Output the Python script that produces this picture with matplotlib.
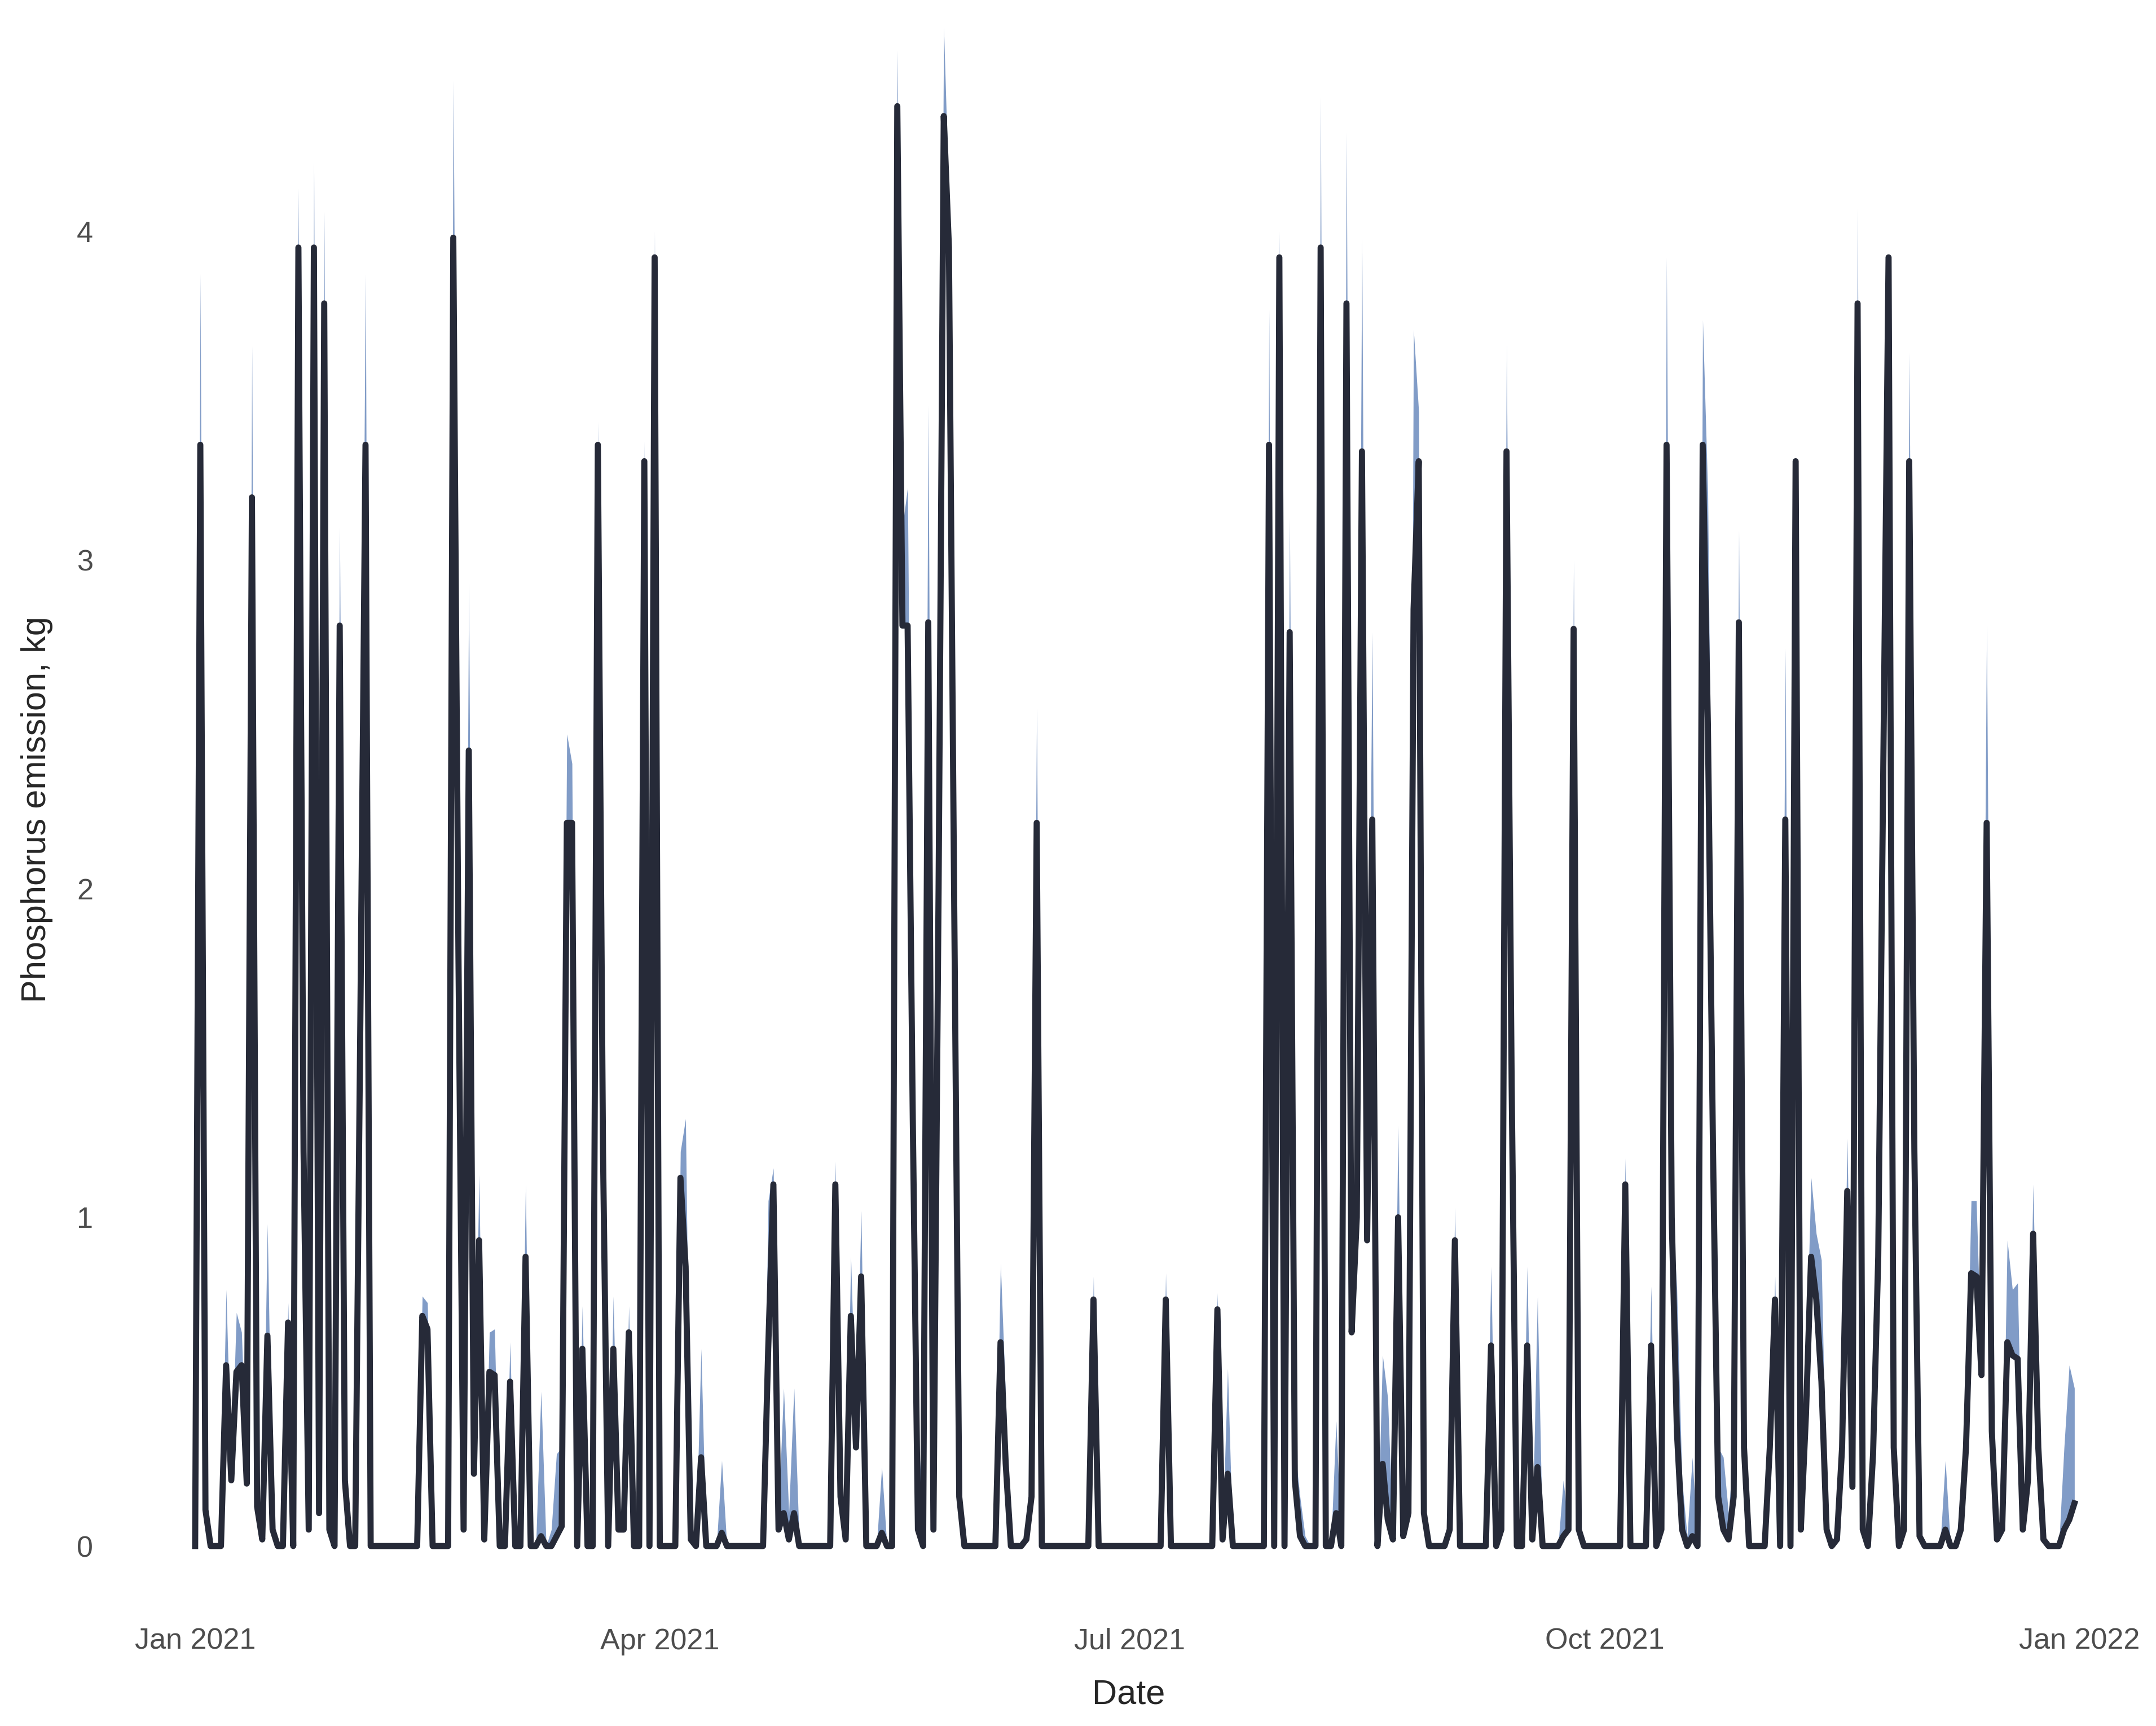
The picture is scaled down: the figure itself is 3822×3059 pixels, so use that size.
import numpy as np
import pandas as pd
import matplotlib
matplotlib.use("Agg")
import matplotlib.pyplot as plt
import matplotlib.dates as mdates

# daily phosphorus emission 2021 (kg), line = estimate, upper = top of the band
jan_mean = [0, 3.35, 0.11, 0, 0, 0, 0.55, 0.2, 0.53, 0.55, 0.19, 3.19, 0.12, 0.02, 0.64, 0.05, 0, 0, 0.68, 0, 3.95, 1.2, 0.05, 3.95, 0.1, 3.78, 0.05, 0, 2.8, 0.2, 0]
feb_mean = [0, 1.6, 3.35, 0, 0, 0, 0, 0, 0, 0, 0, 0, 0, 0.7, 0.66, 0, 0, 0, 0, 3.98, 1.8, 0.05, 2.42, 0.22, 0.93, 0.02, 0.53, 0.52]
mar_mean = [0, 0, 0.5, 0, 0, 0.88, 0, 0, 0.03, 0, 0, 0.03, 0.06, 2.2, 2.2, 0, 0.6, 0, 0, 3.35, 1.2, 0, 0.6, 0.05, 0.05, 0.65, 0, 0, 3.3, 0, 3.92]
apr_mean = [0, 0, 0, 0, 1.12, 0.85, 0.02, 0, 0.27, 0, 0, 0, 0.04, 0, 0, 0, 0, 0, 0, 0, 0, 0.6, 1.1, 0.05, 0.1, 0.02, 0.1, 0, 0, 0]
may_mean = [0, 0, 0, 0, 1.1, 0.15, 0.02, 0.7, 0.3, 0.82, 0, 0, 0, 0.04, 0, 0, 4.38, 2.8, 2.8, 1.3, 0.05, 0, 2.81, 0.05, 2.0, 4.35, 3.95, 2.0, 0.15, 0, 0]
jun_mean = [0, 0, 0, 0, 0, 0.62, 0.25, 0, 0, 0, 0.02, 0.15, 2.2, 0, 0, 0, 0, 0, 0, 0, 0, 0, 0, 0.75, 0, 0, 0, 0, 0, 0]
jul_mean = [0, 0, 0, 0, 0, 0, 0, 0.75, 0, 0, 0, 0, 0, 0, 0, 0, 0, 0.72, 0.02, 0.22, 0, 0, 0, 0, 0, 0, 0, 3.35, 0, 3.92, 0]
aug_mean = [2.78, 0.2, 0.03, 0, 0, 0, 3.95, 0, 0, 0.1, 0, 3.78, 0.65, 1.0, 3.33, 0.93, 2.21, 0, 0.25, 0.08, 0.02, 1.0, 0.03, 0.1, 2.85, 3.3, 0.1, 0, 0, 0, 0]
sep_mean = [0.05, 0.93, 0, 0, 0, 0, 0, 0, 0.61, 0, 0.05, 3.33, 1.4, 0, 0, 0.61, 0.02, 0.24, 0, 0, 0, 0, 0.03, 0.05, 2.79, 0.05, 0, 0, 0, 0]
oct_mean = [0, 0, 0, 0, 1.1, 0, 0, 0, 0, 0.61, 0, 0.05, 3.35, 1.0, 0.35, 0.05, 0, 0.03, 0, 3.35, 2.5, 1.2, 0.15, 0.05, 0.02, 0.15, 2.81, 0.3, 0, 0, 0]
nov_mean = [0, 0.3, 0.75, 0, 2.21, 0, 3.3, 0.05, 0.4, 0.88, 0.75, 0.5, 0.05, 0, 0.02, 0.3, 1.08, 0.18, 3.78, 0.05, 0, 0.28, 0.88, 2.4, 3.92, 0.3, 0, 0.05, 3.3, 1.2]
dec_mean = [0.03, 0, 0, 0, 0, 0.05, 0, 0, 0.05, 0.3, 0.83, 0.82, 0.52, 2.2, 0.35, 0.02, 0.05, 0.62, 0.58, 0.57, 0.05, 0.2, 0.95, 0.3, 0.02, 0, 0, 0, 0.05, 0.08, 0.13]

jan_upper = [0, 3.87, 0.2, 0, 0, 0, 0.78, 0.22, 0.71, 0.65, 0.2, 3.65, 0.2, 0.03, 0.98, 0.07, 0, 0, 0.74, 0, 4.13, 1.25, 0.06, 4.21, 0.12, 4.06, 0.2, 0, 3.1, 0.4, 0]
feb_upper = [0, 1.7, 3.87, 0, 0, 0, 0, 0, 0, 0, 0, 0, 0, 0.76, 0.74, 0, 0, 0, 0, 4.46, 2.0, 0.06, 2.93, 0.25, 1.13, 0.03, 0.65, 0.66]
mar_upper = [0, 0, 0.62, 0, 0, 1.1, 0, 0, 0.47, 0, 0.05, 0.28, 0.3, 2.47, 2.38, 0, 0.73, 0, 0, 3.42, 1.25, 0, 0.76, 0.06, 0.06, 0.73, 0, 0, 3.36, 0, 4.0]
apr_upper = [0, 0, 0, 0, 1.2, 1.3, 0.05, 0, 0.6, 0, 0, 0, 0.26, 0, 0, 0, 0, 0, 0, 0, 0, 1.05, 1.15, 0.1, 0.48, 0.1, 0.48, 0.02, 0, 0]
may_upper = [0, 0, 0, 0, 1.17, 0.2, 0.03, 0.88, 0.35, 1.02, 0, 0, 0, 0.24, 0, 0, 4.55, 3.1, 3.22, 1.35, 0.35, 0.1, 3.47, 0.06, 2.1, 4.62, 4.1, 2.1, 0.18, 0, 0]
jun_upper = [0, 0, 0, 0, 0, 0.86, 0.45, 0, 0, 0, 0.05, 0.2, 2.55, 0, 0, 0, 0, 0, 0, 0, 0, 0, 0, 0.82, 0, 0, 0, 0, 0, 0]
jul_upper = [0, 0, 0, 0, 0, 0, 0, 0.83, 0, 0, 0, 0, 0, 0, 0, 0, 0, 0.77, 0.03, 0.54, 0, 0, 0, 0, 0, 0, 0, 3.76, 0, 4.0, 0]
aug_upper = [3.13, 0.3, 0.15, 0.03, 0, 0, 4.41, 0, 0, 0.38, 0, 4.3, 0.7, 1.05, 3.98, 0.95, 2.78, 0, 0.58, 0.45, 0.03, 1.28, 0.05, 0.12, 3.7, 3.45, 0.12, 0, 0, 0, 0]
sep_upper = [0.06, 1.03, 0, 0, 0, 0, 0, 0, 0.85, 0, 0.06, 3.66, 1.45, 0, 0, 0.85, 0.03, 0.76, 0, 0, 0, 0, 0.2, 0.06, 3.0, 0.06, 0, 0, 0, 0]
oct_upper = [0, 0, 0, 0, 1.18, 0, 0, 0, 0, 0.79, 0, 0.06, 3.92, 1.05, 0.78, 0.2, 0.03, 0.27, 0, 3.73, 3.2, 1.6, 0.3, 0.27, 0.1, 0.3, 3.09, 0.4, 0, 0, 0]
nov_upper = [0, 0.32, 0.82, 0, 2.73, 0, 3.32, 0.06, 0.55, 1.12, 0.95, 0.87, 0.1, 0, 0.05, 0.35, 1.24, 0.2, 4.07, 0.06, 0, 0.32, 0.97, 2.45, 3.94, 0.32, 0, 0.06, 3.63, 1.25]
dec_upper = [0.04, 0, 0, 0, 0, 0.26, 0, 0, 0.15, 0.35, 1.05, 1.05, 0.55, 2.8, 0.45, 0.03, 0.06, 0.93, 0.78, 0.8, 0.06, 0.25, 1.1, 0.35, 0.03, 0, 0, 0, 0.3, 0.55, 0.48]

mean_kg = np.array(jan_mean + feb_mean + mar_mean + apr_mean + may_mean + jun_mean
                   + jul_mean + aug_mean + sep_mean + oct_mean + nov_mean + dec_mean)
upper_kg = np.array(jan_upper + feb_upper + mar_upper + apr_upper + may_upper + jun_upper
                    + jul_upper + aug_upper + sep_upper + oct_upper + nov_upper + dec_upper)
upper_kg = np.maximum(upper_kg, mean_kg)

dates = pd.date_range("2021-01-01", periods=len(mean_kg), freq="D")

plt.rcParams['font.family'] = ['Liberation Sans', 'DejaVu Sans']

fig = plt.figure(figsize=(3822 / 300, 3059 / 300), dpi=300)
ax = fig.add_axes([0.047, 0.0618, 0.953, 0.9382])

ax.fill_between(dates, mean_kg, upper_kg, color='#4c72b0', alpha=0.7, linewidth=0)
ax.plot(dates, mean_kg, color='#262a38', linewidth=2.6)

start = mdates.date2num(dates[0])
ax.set_xlim(start - 18.17, start + 379.8)
ax.set_ylim(-0.223, 4.703)

ax.xaxis.set_major_locator(mdates.MonthLocator(bymonth=[1, 4, 7, 10]))
ax.xaxis.set_major_formatter(mdates.DateFormatter('%b %Y'))
ax.set_yticks([0, 1, 2, 3, 4])

for s in ax.spines.values():
    s.set_visible(False)
ax.tick_params(length=0, labelsize=12.5, labelcolor='#4d4d4d')

ax.set_xlabel("Date", fontsize=14.7, color='#262626', labelpad=10)
ax.set_ylabel("Phosphorus emission, kg", fontsize=14.7, color='#262626', labelpad=10)

fig.savefig("out.png", dpi=300)
